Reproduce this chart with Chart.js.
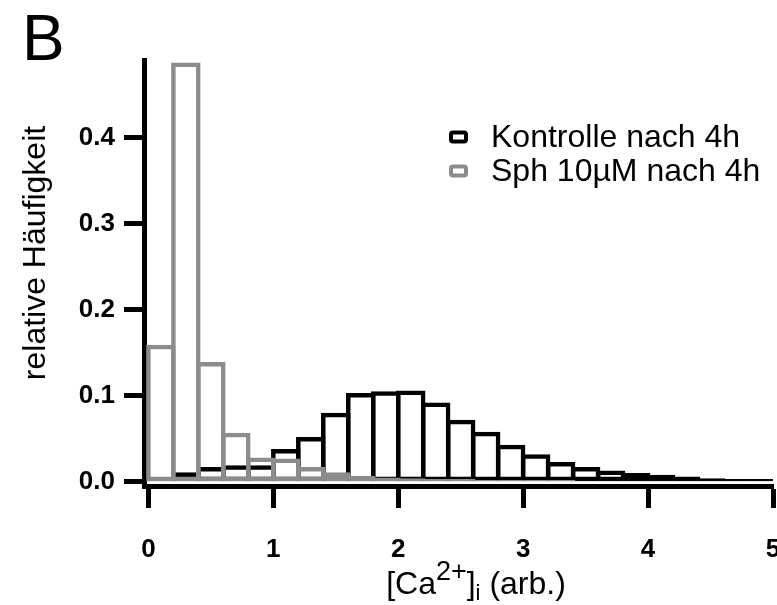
<!DOCTYPE html>
<html>
<head>
<meta charset="utf-8">
<script src="https://cdn.jsdelivr.net/npm/chart.js@4.4.0/dist/chart.umd.min.js"></script>
<style>
html, body { margin: 0; padding: 0; background: #fff; }
#wrap { width: 777px; height: 605px; }
</style>
</head>
<body>
<div id="wrap"><canvas id="myChart"></canvas></div>
<script>
"use strict";

// histogram bins of width 0.2
var binCenters = [0.1, 0.3, 0.5, 0.7, 0.9, 1.1, 1.3, 1.5, 1.7, 1.9, 2.1, 2.3, 2.5, 2.7, 2.9, 3.1, 3.3, 3.5, 3.7, 3.9, 4.1, 4.3, 4.5, 4.7, 4.9];
var kontrolle = [0.003, 0.011, 0.017, 0.019, 0.019, 0.038, 0.052, 0.080, 0.103, 0.105, 0.106, 0.092, 0.072, 0.058, 0.043, 0.032, 0.023, 0.017, 0.013, 0.010, 0.008, 0.006, 0.004, 0.003, 0.003];
var sph = [0.159, 0.487, 0.139, 0.057, 0.028, 0.027, 0.017, 0.011, 0.007, 0.005, 0.004, 0.003, 0.003, 0.002, 0.002, 0.002, 0.002, 0.001, 0.001, 0.001, 0.001, 0.001, 0.001, 0.001, 0.001];
var seriesNames = ['Kontrolle nach 4h', 'Sph 10µM nach 4h'];
var seriesColors = ['#000000', '#8c8c8c'];
var panelLetter = 'B';
var yTitle = 'relative Häufigkeit';
var xTitleParts = [
    { text: '[Ca', kind: 'n' },
    { text: '2+', kind: 'sup' },
    { text: ']', kind: 'n' },
    { text: 'i', kind: 'sub' },
    { text: ' (arb.)', kind: 'n' }
];

var FONT = '"Liberation Sans", Arial, Helvetica, sans-serif';

function toPoints(values) {
    var pts = [];
    for (var i = 0; i < values.length; i++) {
        pts.push({ x: binCenters[i], y: values[i] });
    }
    return pts;
}

// titles, panel letter and legend drawn on the canvas
var textPlugin = {
    id: 'texts',
    afterDraw: function(chart) {
        var ctx = chart.ctx;
        ctx.save();
        ctx.fillStyle = '#000';
        ctx.textAlign = 'left';
        ctx.textBaseline = 'alphabetic';

        ctx.font = '64px ' + FONT;
        ctx.fillText(panelLetter, 22, 60);

        ctx.save();
        ctx.translate(45, 253);
        ctx.rotate(-Math.PI / 2);
        ctx.font = '32px ' + FONT;
        ctx.textAlign = 'center';
        ctx.fillText(yTitle, 0, 0);
        ctx.restore();

        var sizes = { n: 32, sup: 27, sub: 22 };
        var shift = { n: 0, sup: -14, sub: 6 };
        var total = 0;
        xTitleParts.forEach(function(p) {
            ctx.font = sizes[p.kind] + 'px ' + FONT;
            total += ctx.measureText(p.text).width;
        });
        var x = 476 - total / 2;
        xTitleParts.forEach(function(p) {
            ctx.font = sizes[p.kind] + 'px ' + FONT;
            ctx.fillText(p.text, x, 594 + shift[p.kind]);
            x += ctx.measureText(p.text).width;
        });

        var rowY = [137, 171];
        chart.data.datasets.forEach(function(ds, i) {
            ctx.beginPath();
            ctx.roundRect(451, rowY[i] - 4.5, 15, 9, 2);
            ctx.fillStyle = '#fff';
            ctx.fill();
            ctx.lineWidth = 4;
            ctx.strokeStyle = ds.borderColor;
            ctx.stroke();
            ctx.fillStyle = '#000';
            ctx.font = '32px ' + FONT;
            ctx.textBaseline = 'middle';
            ctx.fillText(ds.label, 491, rowY[i] + 1);
            ctx.textBaseline = 'alphabetic';
        });
        ctx.restore();
    }
};

var ctx1 = document.getElementById('myChart').getContext('2d');
var myChart = new Chart(ctx1, {
    type: 'bar',
    data: {
        datasets: [{
            label: seriesNames[0],
            data: toPoints(kontrolle),
            backgroundColor: 'rgba(255,255,255,0)',
            borderColor: seriesColors[0],
            borderWidth: 4.5,
            order: 1
        }, {
            label: seriesNames[1],
            data: toPoints(sph),
            backgroundColor: 'rgba(255,255,255,0)',
            borderColor: seriesColors[1],
            borderWidth: 4.5,
            order: 0
        }]
    },
    options: {
        responsive: true,
        maintainAspectRatio: false,
        animation: false,
        layout: {
            padding: { left: 0, top: 60, right: 4, bottom: 0 }
        },
        datasets: {
            bar: {
                grouped: false,
                barPercentage: 1.18,
                categoryPercentage: 1,
                borderSkipped: false,
                inflateAmount: 0
            }
        },
        plugins: {
            legend: { display: false },
            tooltip: { enabled: false },
            title: { display: false }
        },
        scales: {
            x: {
                type: 'linear',
                offset: false,
                min: -0.035,
                max: 5,
                grid: { offset: false, drawOnChartArea: false, tickLength: 22, tickWidth: 5, tickColor: '#000' },
                border: { color: '#000', width: 5 },
                ticks: {
                    stepSize: 1,
                    includeBounds: false,
                    maxRotation: 0,
                    padding: 26,
                    color: '#000',
                    font: { family: FONT, size: 26, weight: 'bold' }
                },
                afterFit: function(s) {
                    s.height = 119;
                    s.paddingLeft = 0;
                    s.paddingRight = 0;
                }
            },
            y: {
                min: -0.005,
                max: 0.49,
                grid: { drawOnChartArea: false, tickLength: 20, tickWidth: 5, tickColor: '#000' },
                border: { color: '#000', width: 5 },
                ticks: {
                    stepSize: 0.1,
                    includeBounds: false,
                    padding: 9,
                    color: '#000',
                    font: { family: FONT, size: 26, weight: 'bold' },
                    callback: function(v) { return v.toFixed(1); }
                },
                afterFit: function(s) {
                    s.width = 144;
                    s.paddingTop = 0;
                    s.paddingBottom = 0;
                }
            }
        }
    },
    plugins: [textPlugin]
});
</script>
</body>
</html>
